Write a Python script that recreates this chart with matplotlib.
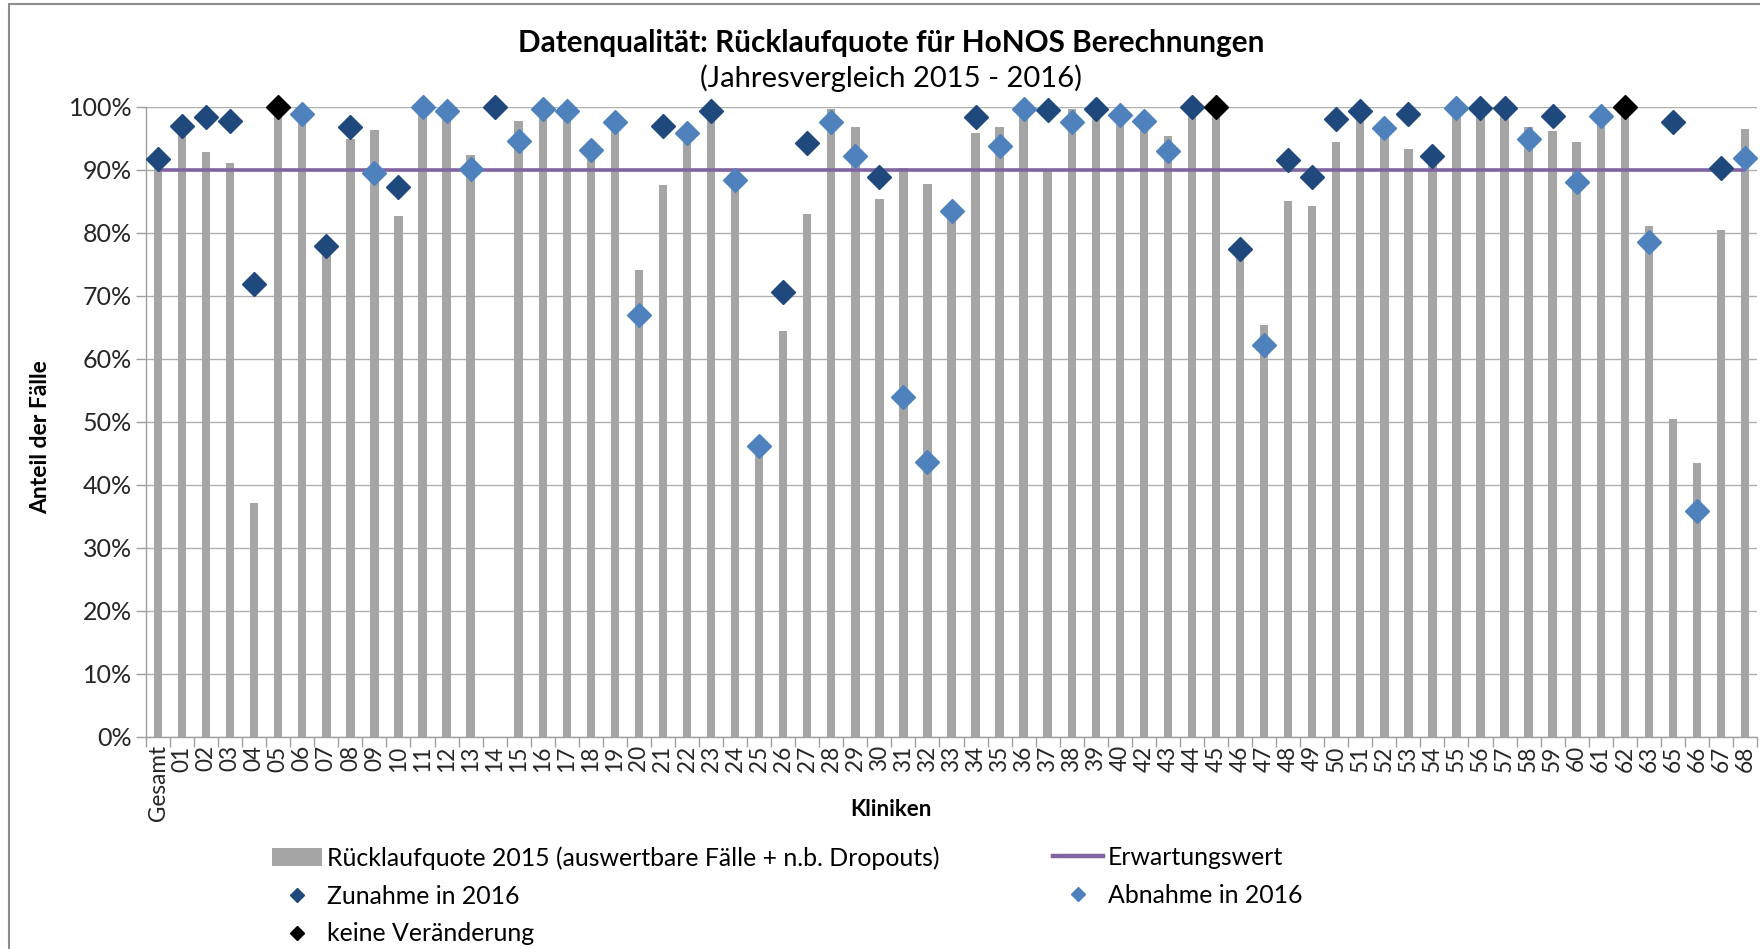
import numpy as np
import matplotlib
matplotlib.use('Agg')
import matplotlib.pyplot as plt
from matplotlib.lines import Line2D
from matplotlib.patches import Patch, Rectangle
from matplotlib.ticker import FuncFormatter

plt.rcParams['font.family'] = ['Lato', 'DejaVu Sans']

# Kliniken (x-Achse)
kliniken = ['Gesamt'] + [f'{i:02d}' for i in range(1, 41)] + [f'{i:02d}' for i in range(42, 64)] + ['65', '66', '67', '68']

# Rücklaufquote 2015 in % (graue Balken), 14 ohne Wert
quote_2015 = [91.0, 96.0, 92.8, 91.1, 37.2, 100.0, 99.5, 77.0, 94.8, 96.3,
              82.7, 100.0, 99.8, 92.3, 0.0, 97.8, 100.0, 99.8, 94.0, 98.2,
              74.1, 87.5, 96.5, 98.5, 89.0, 47.3, 64.4, 82.9, 99.6, 96.8,
              85.3, 90.2, 87.7, 84.0, 95.8, 96.8, 100.0, 90.0, 99.6, 99.0,
              99.3, 98.3, 95.3, 99.0, 100.0, 76.5, 65.3, 85.1, 84.3, 94.4,
              98.7, 97.2, 93.3, 91.5, 100.0, 99.3, 99.3, 96.7, 96.1, 94.4,
              99.3, 100.0, 81.0, 50.4, 43.4, 80.4, 96.5]

# Rücklaufquote 2016 in % (Rauten)
quote_2016 = [91.7, 96.9, 98.4, 97.8, 71.9, 100.0, 98.8, 77.9, 96.7, 89.5,
              87.3, 99.9, 99.3, 90.1, 100.0, 94.6, 99.7, 99.3, 93.1, 97.5,
              67.0, 96.9, 95.8, 99.3, 88.4, 46.1, 70.6, 94.3, 97.5, 92.1,
              88.9, 54.0, 43.6, 83.4, 98.3, 93.8, 99.7, 99.5, 97.5, 99.7,
              98.7, 97.8, 92.9, 100.0, 100.0, 77.4, 62.2, 91.5, 88.9, 98.0,
              99.3, 96.6, 98.8, 92.2, 99.8, 99.8, 99.8, 94.8, 98.6, 88.1,
              98.6, 100.0, 78.6, 97.6, 35.9, 90.3, 91.9]

# Z = Zunahme, A = Abnahme, K = keine Veränderung
trend = ['Z', 'Z', 'Z', 'Z', 'Z', 'K', 'A', 'Z', 'Z', 'A',
         'Z', 'A', 'A', 'A', 'Z', 'A', 'A', 'A', 'A', 'A',
         'A', 'Z', 'A', 'Z', 'A', 'A', 'Z', 'Z', 'A', 'A',
         'Z', 'A', 'A', 'A', 'Z', 'A', 'A', 'Z', 'A', 'Z',
         'A', 'A', 'A', 'Z', 'K', 'Z', 'A', 'Z', 'Z', 'Z',
         'Z', 'A', 'Z', 'Z', 'A', 'Z', 'Z', 'A', 'Z', 'A',
         'A', 'K', 'A', 'Z', 'A', 'Z', 'A']

erwartungswert = 90

W, H = 1760, 949
fig = plt.figure(figsize=(W / 100, H / 100), dpi=100)
ax = fig.add_axes([146 / W, 1 - 737 / H, (1757 - 146) / W, (737 - 106.7) / H])

x = np.arange(len(kliniken))
y16 = np.array(quote_2016)
tr = np.array(trend)

ax.bar(x, quote_2015, width=0.35, color='#A5A5A5', zorder=2)
ax.plot(x, np.full(len(x), erwartungswert), color='#8064A2', lw=2.6, zorder=3, solid_capstyle='butt')

farben = {'Z': '#1F497D', 'A': '#4F81BD', 'K': '#000000'}
for code, farbe in farben.items():
    m = tr == code
    ax.plot(x[m], y16[m], 'D', ms=12, color=farbe, ls='none', zorder=4, clip_on=False)

ax.set_xlim(-0.5, len(x) - 0.5)
ax.set_ylim(0, 100)
ax.set_yticks(np.arange(0, 101, 10))
ax.yaxis.set_major_formatter(FuncFormatter(lambda v, p: f'{v:.0f}%'))
ax.set_xticks(x)
ax.set_xticklabels(kliniken, rotation=90, fontsize=16.3)
ax.set_xticks(np.arange(-0.5, len(x)), minor=True)
ax.tick_params(axis='x', which='major', length=0, pad=6)
ax.tick_params(axis='x', which='minor', length=7, color='#A0A0A0', width=1)
ax.tick_params(axis='y', length=7, color='#A0A0A0', width=1, labelsize=18, pad=3, labelcolor='#262626')
ax.tick_params(axis='x', labelcolor='#262626')

ax.grid(axis='y', color='#B0B0B0', lw=1, zorder=0)
ax.set_axisbelow(True)
for s in ['top', 'right']:
    ax.spines[s].set_visible(False)
for s in ['left', 'bottom']:
    ax.spines[s].set_color('#A0A0A0')
    ax.spines[s].set_linewidth(1)

fig.text(891 / W, 1 - 43 / H, 'Datenqualität: Rücklaufquote für HoNOS Berechnungen',
         ha='center', va='center', fontsize=21.4, weight='bold')
fig.text(891 / W, 1 - 78 / H, '(Jahresvergleich 2015 - 2016)',
         ha='center', va='center', fontsize=21)
fig.text(41 / W, 1 - 437 / H, 'Anteil der Fälle', rotation=90,
         ha='center', va='center', fontsize=16.5, weight='bold')
fig.text(891 / W, 1 - 810 / H, 'Kliniken', ha='center', va='center', fontsize=16, weight='bold')

h_bar = Patch(facecolor='#A5A5A5', edgecolor='none')
h_z = Line2D([], [], marker='D', ls='none', color=farben['Z'], ms=7.5)
h_a = Line2D([], [], marker='D', ls='none', color=farben['A'], ms=7.5)
h_k = Line2D([], [], marker='D', ls='none', color=farben['K'], ms=7.5)
h_e = Line2D([], [], color='#8064A2', lw=3.2)

leg_kw = dict(frameon=False, fontsize=17.9, handlelength=2.0, handleheight=0.7,
              handletextpad=0.22, labelspacing=0.6, borderpad=0, borderaxespad=0,
              loc='upper left')
fig.legend([h_bar, h_z, h_k],
           ['Rücklaufquote 2015 (auswertbare Fälle + n.b. Dropouts)', 'Zunahme in 2016', 'keine Veränderung'],
           bbox_to_anchor=(272 / W, 1 - 846 / H), **leg_kw)
fig.legend([h_e, h_a], ['Erwartungswert', 'Abnahme in 2016'],
           bbox_to_anchor=(1053 / W, 1 - 846 / H), **leg_kw)

fig.add_artist(Rectangle((8.5 / W, -0.2), 1.5, 1.2 - 4 / H, transform=fig.transFigure,
                         fill=False, edgecolor='#8C8C8C', lw=1.5))

fig.savefig('out.png', dpi=100)
